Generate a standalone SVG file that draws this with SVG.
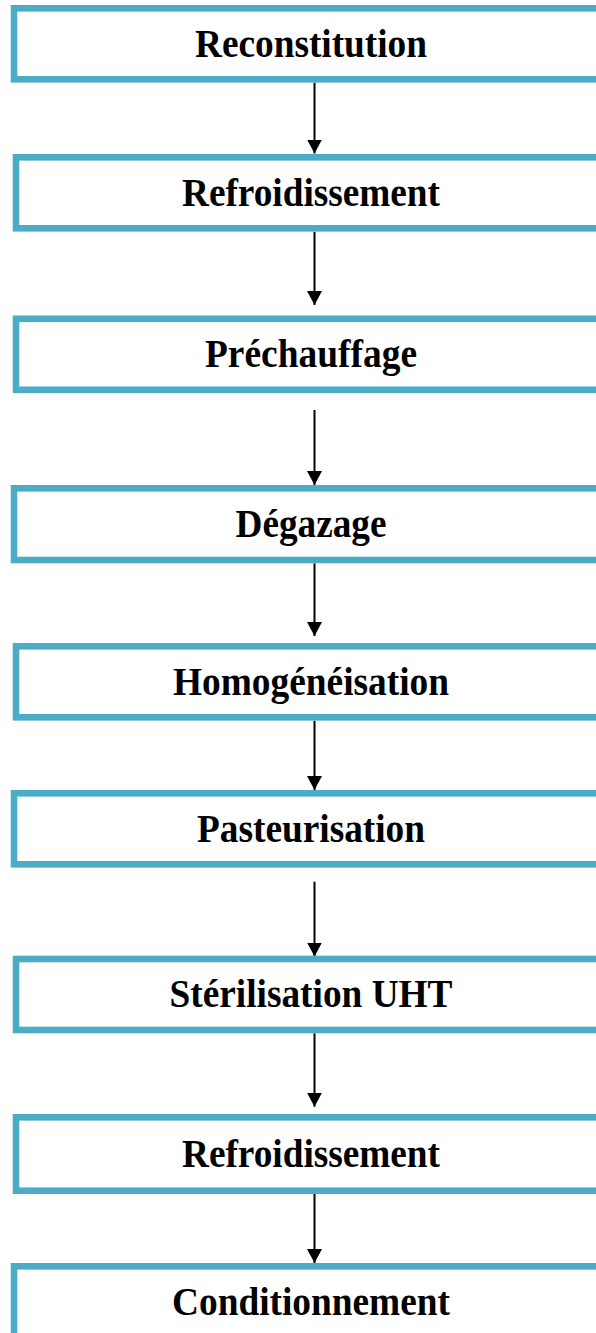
<svg xmlns="http://www.w3.org/2000/svg" width="596" height="1333" viewBox="0 0 596 1333">
<style>
.box{fill:#ffffff;stroke:#4BACC6;stroke-width:6.6}
.lbl{font-family:"Liberation Serif","Times New Roman",serif;font-weight:bold;font-size:40px;fill:#000000;text-anchor:middle}
.conn{stroke:#000000;stroke-width:2;fill:none;marker-end:url(#arr)}
</style>
<defs>
<marker id="arr" markerUnits="userSpaceOnUse" markerWidth="14" markerHeight="15" viewBox="0 0 14 15" refX="14" refY="7.5" orient="auto">
<path d="M0,0 L14,7.5 L0,15 Z" fill="#000000"/>
</marker>
</defs>
<rect width="596" height="1333" fill="#ffffff"/>
<g id="connectors">
<line class="conn" x1="314.5" y1="82.7" x2="314.5" y2="153.5"/>
<line class="conn" x1="314.5" y1="231.7" x2="314.5" y2="305"/>
<line class="conn" x1="314.5" y1="410" x2="314.5" y2="485"/>
<line class="conn" x1="314.5" y1="563.3" x2="314.5" y2="636"/>
<line class="conn" x1="314.5" y1="720.7" x2="314.5" y2="790"/>
<line class="conn" x1="314.5" y1="881.7" x2="314.5" y2="956.5"/>
<line class="conn" x1="314.5" y1="1033.3" x2="314.5" y2="1106.7"/>
<line class="conn" x1="314.5" y1="1194" x2="314.5" y2="1263"/>
</g>
<g id="n1"><rect class="box" x="14" y="8.3" width="600" height="71"/><text class="lbl" x="311" y="56.5" textLength="232" lengthAdjust="spacingAndGlyphs">Reconstitution</text></g>
<g id="n2"><rect class="box" x="16" y="157.3" width="600" height="71"/><text class="lbl" x="311" y="205.5" textLength="258" lengthAdjust="spacingAndGlyphs">Refroidissement</text></g>
<g id="n3"><rect class="box" x="16" y="318.8" width="600" height="71"/><text class="lbl" x="311" y="367" textLength="212" lengthAdjust="spacingAndGlyphs">Préchauffage</text></g>
<g id="n4"><rect class="box" x="14" y="488.3" width="600" height="71.7"/><text class="lbl" x="311" y="537" textLength="151" lengthAdjust="spacingAndGlyphs">Dégazage</text></g>
<g id="n5"><rect class="box" x="16" y="646.3" width="600" height="71"/><text class="lbl" x="311" y="694.5" textLength="276" lengthAdjust="spacingAndGlyphs">Homogénéisation</text></g>
<g id="n6"><rect class="box" x="14" y="793.3" width="600" height="71"/><text class="lbl" x="311" y="841.5" textLength="228" lengthAdjust="spacingAndGlyphs">Pasteurisation</text></g>
<g id="n7"><rect class="box" x="16" y="959" width="600" height="71"/><text class="lbl" x="311" y="1007" textLength="283" lengthAdjust="spacingAndGlyphs">Stérilisation UHT</text></g>
<g id="n8"><rect class="box" x="16" y="1117.3" width="600" height="73.4"/><text class="lbl" x="311" y="1166.7" textLength="258" lengthAdjust="spacingAndGlyphs">Refroidissement</text></g>
<g id="n9"><rect class="box" x="14" y="1266.3" width="600" height="100"/><text class="lbl" x="311" y="1314.5" textLength="278" lengthAdjust="spacingAndGlyphs">Conditionnement</text></g>
</svg>
